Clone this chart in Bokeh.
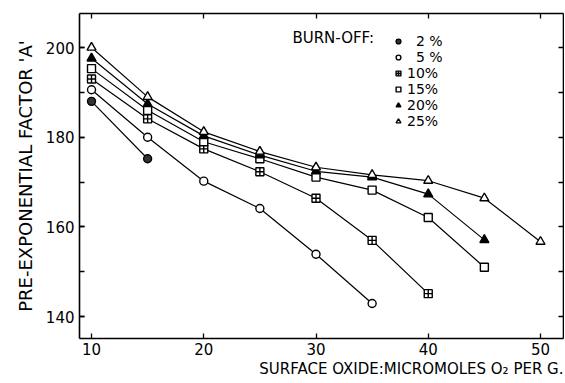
from bokeh.plotting import figure
from bokeh.models import (LinearAxis, SingleIntervalTicker, Range1d, Legend, LegendItem,
                          Label, Title, CustomJSTickFormatter)
from bokeh.embed import file_html
from bokeh.resources import INLINE

# ---- data ----
oxide = [10, 15, 20, 25, 30, 35, 40, 45, 50]
bo2 = [188.0, 175.2]
bo5 = [190.6, 180.0, 170.2, 164.1, 153.9, 142.9]
bo10 = [193.0, 184.1, 177.4, 172.3, 166.4, 157.0, 145.1]
bo15 = [195.3, 186.0, 179.0, 175.2, 171.1, 168.2, 162.1, 151.0]
bo20 = [197.6, 187.4, 180.3, 176.0, 172.4, 171.1, 167.3, 157.1]
bo25 = [200.0, 189.0, 181.2, 176.8, 173.3, 171.6, 170.3, 166.4, 156.7]
series_labels = ["\u20072 %", "\u20075 %", "10%", "15%", "20%", "25%"]

FONT = "DejaVu Sans"

p = figure(width=564, height=381, output_backend="svg", toolbar_location=None,
           x_range=Range1d(8.93, 52.05), y_range=Range1d(135.1, 207.6),
           min_border_left=79, min_border_right=1, min_border_top=13, min_border_bottom=43,
           background_fill_color="white", border_fill_color="white")
p.grid.visible = False
p.outline_line_color = None


def style_axis(ax, labels=True):
    ax.axis_line_color = "black"
    ax.axis_line_width = 1.6
    ax.major_tick_in = 5
    ax.major_tick_out = 0
    ax.minor_tick_in = 5
    ax.minor_tick_out = 0
    ax.major_tick_line_color = "black"
    ax.minor_tick_line_color = "black"
    ax.major_tick_line_width = 1.3
    ax.minor_tick_line_width = 1.3
    if labels:
        ax.major_label_text_font = FONT
        ax.major_label_text_font_size = "15px"
        ax.major_label_text_color = "black"
    else:
        ax.formatter = CustomJSTickFormatter(code="return ''")
        ax.major_label_standoff = 0


xb = p.xaxis[0]
xb.ticker = SingleIntervalTicker(interval=10, num_minor_ticks=0)
style_axis(xb)
xb.major_label_standoff = 4

yl = p.yaxis[0]
yl.ticker = SingleIntervalTicker(interval=20, num_minor_ticks=2)
style_axis(yl)
yl.major_label_standoff = 5
yl.axis_label = "PRE-EXPONENTIAL FACTOR 'A'"
yl.axis_label_text_font = FONT
yl.axis_label_text_font_size = "18px"
yl.axis_label_text_font_style = "normal"
yl.axis_label_text_color = "black"
yl.axis_label_standoff = 7

top = LinearAxis(ticker=SingleIntervalTicker(interval=10, num_minor_ticks=0))
style_axis(top, labels=False)
p.add_layout(top, "above")
right = LinearAxis(ticker=SingleIntervalTicker(interval=10, num_minor_ticks=0))
style_axis(right, labels=False)
p.add_layout(right, "right")

xt = Title(text="SURFACE OXIDE:MICROMOLES O\u2082 PER G.", align="right",
           text_font=FONT, text_font_size="15px", text_font_style="normal",
           text_color="black", standoff=0, offset=0)
p.add_layout(xt, "below")

all_series = [bo2, bo5, bo10, bo15, bo20, bo25]
markers = ["circle", "circle", "square_cross", "square", "triangle", "triangle"]
fills = ["#333333", "white", "white", "white", "black", "white"]
sizes = [8, 8, 8, 8, 9, 9]
items = []
for ys, mk, fc, sz, lab in zip(all_series, markers, fills, sizes, series_labels):
    xs = oxide[:len(ys)]
    p.line(xs, ys, line_color="black", line_width=1.2)
    r = p.scatter(xs, ys, marker=mk, size=sz, fill_color=fc, line_color="black",
                  line_width=1.4)
    items.append(LegendItem(label=lab, renderers=[r]))

leg = Legend(items=items, location=(313, 209), orientation="vertical",
             label_text_font=FONT, label_text_font_size="14px", label_text_color="black",
             glyph_width=12, glyph_height=12, label_height=12, label_standoff=3,
             spacing=0, padding=0, margin=0, border_line_color=None,
             background_fill_alpha=0)
p.add_layout(leg, "center")

p.add_layout(Label(x=27.9, y=202.2, text="BURN-OFF:", text_font=FONT,
                   text_font_size="15px", text_baseline="middle", text_color="black"))

open("out.html", "w").write(file_html(p, INLINE))
